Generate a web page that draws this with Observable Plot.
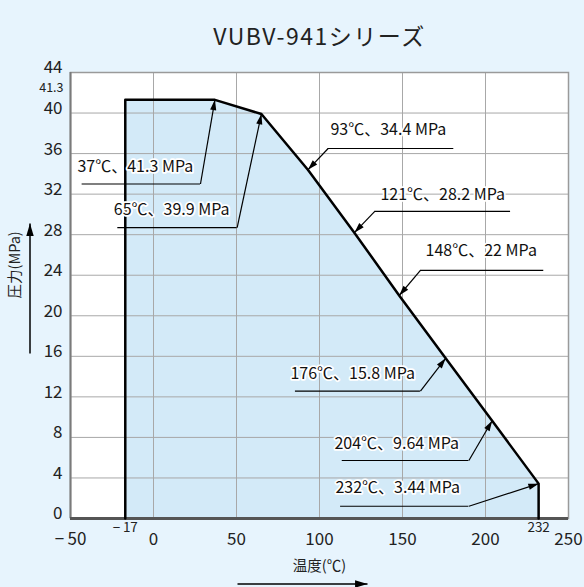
<!DOCTYPE html>
<html><head><meta charset="utf-8">
<script src="https://cdn.jsdelivr.net/npm/d3@7"></script>
<script src="https://cdn.jsdelivr.net/npm/@observablehq/plot@0.6"></script>
<style>
html,body{margin:0;padding:0;background:#e7f4fd;}
svg{display:block;}
</style></head><body><div id="chart"></div>
<script>
// ---- data ----
const title = "VUBV-941シリーズ";
const xLabel = "温度(℃)";
const yLabel = "圧力(MPa)";
const temps = [-17, 37, 65, 93, 121, 148, 176, 204, 232];
const pressures = [41.3, 41.3, 39.9, 34.4, 28.2, 22, 15.8, 9.64, 3.44];
const labelTemps = [37, 65, 93, 121, 148, 176, 204, 232];
const labelPressures = [41.3, 39.9, 34.4, 28.2, 22, 15.8, 9.64, 3.44];
const yTicks = [0, 4, 8, 12, 16, 20, 24, 28, 32, 36, 40, 44];
const xTicks = [-50, 0, 50, 100, 150, 200, 250];
const extraYTick = [41.3];
const extraXTicks = [-17, 232];

// ---- layout (annotation placement, in data units) ----
const labelLayout = [
  {tx: -45.8, ty: 34.66, ux1: -43, ux2: 28.3, uy: 33.0, from: "right"},
  {tx: -23.9, ty: 30.4, ux1: -21.5, ux2: 50.4, uy: 28.7, from: "right"},
  {tx: 106.6, ty: 38.3, ux1: 105.2, ux2: 180.9, uy: 36.5, from: "left"},
  {tx: 136.7, ty: 31.97, ux1: 133.3, ux2: 215.1, uy: 30.3, from: "left"},
  {tx: 163.9, ty: 26.44, ux1: 160.8, ux2: 235.1, uy: 24.47, from: "left"},
  {tx: 82.5, ty: 14.28, ux1: 85.5, ux2: 160.8, uy: 12.56, from: "right"},
  {tx: 109, ty: 7.37, ux1: 113.7, ux2: 190, uy: 5.72, from: "right"},
  {tx: 109.6, ty: 2.99, ux1: 112.7, ux2: 190, uy: 1.21, from: "right"}
];

const W = 584, H = 587, mL = 70, mR = 16, mT = 72, mB = 69;
const xDom = [-50, 250], yDom = [0, 44];
const kx = (W - mL - mR) / (xDom[1] - xDom[0]);
const ky = (H - mT - mB) / (yDom[1] - yDom[0]);
const font = "'Noto Sans CJK JP', 'Noto Sans', sans-serif";

const curve = temps.map((t, i) => ({t, p: pressures[i]}));
const outline = [{t: temps[0], p: 0}, ...curve, {t: temps[temps.length - 1], p: 0}];

const anns = labelTemps.map((t, i) => {
  const L = labelLayout[i];
  const ax = L.from === "right" ? L.ux2 : L.ux1;
  const dxp = (t - ax) * kx, dyp = -(labelPressures[i] - L.uy) * ky;
  return {
    t, p: labelPressures[i], ...L, ax, ay: L.uy,
    text: `${t}℃、${labelPressures[i]} MPa`,
    rot: Math.atan2(dxp, -dyp) * 180 / Math.PI
  };
});

const arrowSym = {
  draw(ctx, size) {
    const s = Math.sqrt(size);
    const len = s * 1.0, w = s * 0.3;
    ctx.moveTo(0, 0);
    ctx.lineTo(-w, len);
    ctx.lineTo(w, len);
    ctx.closePath();
  }
};

// axis arrows (data units derived from layout)
const px2x = (px) => (px - mL) / kx + xDom[0];
const px2y = (py) => yDom[1] - (py - mT) / ky;
const xArrow = {x1: px2x(237), x2: px2x(367), y: px2y(583.5)};
const yArrow = {x: px2x(29.5), y1: px2y(353), y2: px2y(223)};

const chart = Plot.plot({
  width: W, height: H,
  marginLeft: mL, marginRight: mR, marginTop: mT, marginBottom: mB,
  style: {background: "#e7f4fd", fontFamily: font, color: "#222", overflow: "visible"},
  x: {domain: xDom, label: null},
  y: {domain: yDom, label: null},
  marks: [
    Plot.frame({fill: "white", stroke: "none"}),
    Plot.areaY(curve, {x: "t", y: "p", fill: "#d3eaf8", curve: "linear"}),
    Plot.ruleX([0, 50, 100, 150, 200], {stroke: "#a8a8a8", strokeWidth: 1}),
    Plot.ruleY(yTicks.filter(d => d > 0 && d < 44), {stroke: "#a8a8a8", strokeWidth: 1}),
    Plot.frame({stroke: "#9a9a9a", strokeWidth: 1.5}),
    Plot.ruleX([xDom[0]], {stroke: "#7a7a7a", strokeWidth: 2}),
    Plot.ruleY([0], {stroke: "#555", strokeWidth: 3}),
    Plot.line(outline, {x: "t", y: "p", stroke: "black", strokeWidth: 2.5, curve: "linear"}),
    // annotations
    Plot.ruleY(anns, {y: "uy", x1: "ux1", x2: "ux2", stroke: "black", strokeWidth: 1.2}),
    Plot.link(anns, {x1: "ax", y1: "ay", x2: "t", y2: "p", stroke: "black", strokeWidth: 1.2}),
    Plot.dot(anns, {x: "t", y: "p", symbol: arrowSym, r: 5.8, fill: "black", stroke: "none", rotate: "rot"}),
    Plot.text(anns, {x: "tx", y: "ty", text: "text", textAnchor: "start", fontSize: 16,
      fill: "#111", stroke: "white", strokeWidth: 3.5, paintOrder: "stroke", strokeLinejoin: "round"}),
    // axes
    Plot.axisY({ticks: yTicks, tickSize: 0, tickPadding: 8, fontSize: 17, label: null, fill: "#222", dy: -4.5}),
    Plot.axisX({ticks: xTicks, tickSize: 0, tickPadding: 14, fontSize: 17, label: null, fill: "#222",
      tickFormat: d => d < 0 ? "−\u2009" + Math.abs(d) : String(d)}),
    Plot.text(extraYTick, {y: d => d, frameAnchor: "left", textAnchor: "end", dx: -7, dy: -12, fontSize: 12.5,
      text: d => String(d), fill: "#222"}),
    Plot.text(extraXTicks, {x: d => d, frameAnchor: "bottom", dy: 13, fontSize: 13.5,
      text: d => d < 0 ? "−\u2009" + Math.abs(d) : String(d), fill: "#222"}),
    // titles
    Plot.text([title], {frameAnchor: "top", dy: -44, fontSize: 23, fill: "#222", className: "ttl"}),
    Plot.text([xLabel], {frameAnchor: "bottom", dy: 52, fontSize: 14.5, fill: "#222"}),
    Plot.text([yLabel], {frameAnchor: "left", dx: -55, dy: 3, rotate: -90, fontSize: 14.5, fill: "#222"}),
    Plot.link([xArrow], {x1: "x1", x2: "x2", y1: "y", y2: "y", stroke: "black", strokeWidth: 1.5}),
    Plot.dot([xArrow], {x: "x2", y: "y", symbol: arrowSym, r: 7, fill: "black", stroke: "none", rotate: 90}),
    Plot.link([yArrow], {x1: "x", x2: "x", y1: "y1", y2: "y2", stroke: "black", strokeWidth: 1.5}),
    Plot.dot([yArrow], {x: "x", y: "y2", symbol: arrowSym, r: 7, fill: "black", stroke: "none", rotate: 0})
  ]
});
d3.select(chart).selectAll(".ttl text").attr("letter-spacing", "1.5px");
document.getElementById("chart").appendChild(chart);
</script></body></html>
